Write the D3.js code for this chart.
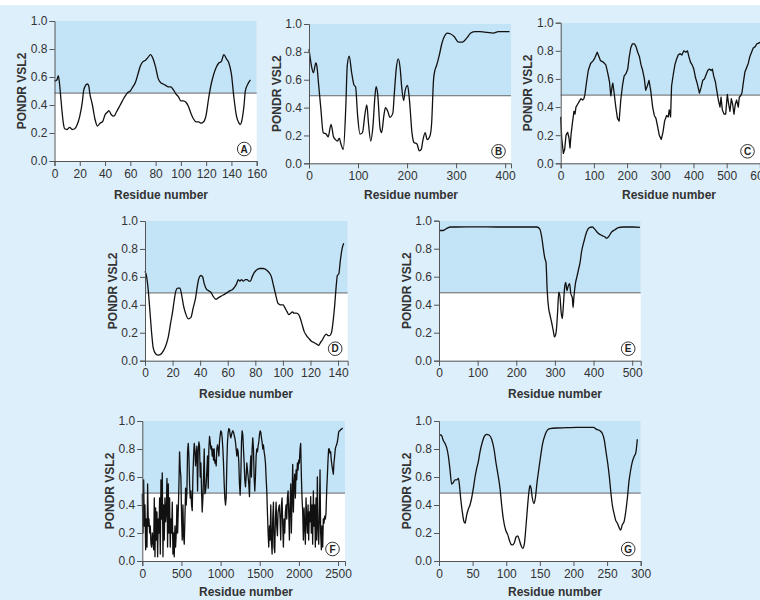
<!DOCTYPE html>
<html>
<head>
<meta charset="utf-8">
<script src="https://cdn.jsdelivr.net/npm/d3@7"></script>
<style>
  body { margin: 0; background: #fff; }
  svg { display: block; font-family: "Liberation Sans", Arial, sans-serif; }
</style>
</head>
<body>
<div id="container"></div>
<script>
// PONDR VSL2 disorder profiles, [residue, score]
const panelA = [[0,.57],[2,.58],[3,.61],[4,.55],[5,.45],[6,.35],[7,.27],[8,.23],[10,.225],[12,.24],[14,.225],[16,.23],[18,.26],[20,.32],[22,.42],[23,.50],[24,.53],[26,.55],[27,.54],[28,.48],[30,.40],[32,.30],[34,.25],[36,.27],[38,.28],[40,.33],[42,.35],[43,.36],[45,.33],[47,.32],[49,.35],[52,.40],[55,.45],[58,.49],[60,.50],[62,.53],[64,.56],[66,.62],[68,.68],[70,.71],[72,.72],[74,.74],[76,.76],[78,.73],[80,.67],[82,.59],[84,.56],[86,.55],[88,.54],[90,.53],[92,.53],[94,.51],[96,.48],[98,.46],[100,.43],[102,.43],[104,.42],[106,.39],[108,.34],[110,.30],[112,.28],[114,.28],[116,.27],[118,.28],[120,.33],[122,.45],[124,.55],[126,.62],[128,.67],[130,.70],[132,.71],[134,.76],[136,.73],[138,.70],[140,.62],[142,.45],[144,.32],[146,.27],[147,.26],[148,.28],[150,.40],[151,.50],[153,.55],[155,.58]];

const panelB = [[0,.82],[5,.70],[9,.65],[14,.72],[16,.70],[20,.55],[24,.40],[29,.22],[35,.21],[39,.19],[45,.28],[50,.19],[54,.17],[58,.16],[62,.18],[65,.14],[70,.10],[75,.40],[78,.70],[82,.77],[87,.65],[92,.56],[95,.55],[99,.35],[104,.21],[109,.22],[114,.35],[118,.42],[121,.30],[126,.16],[130,.25],[135,.50],[137,.55],[140,.50],[145,.25],[148,.22],[153,.35],[156,.40],[161,.37],[165,.33],[171,.36],[174,.50],[178,.68],[182,.75],[186,.68],[189,.55],[193,.45],[196,.52],[201,.56],[205,.45],[210,.22],[214,.15],[220,.14],[225,.09],[229,.10],[232,.16],[237,.22],[241,.17],[247,.20],[250,.28],[254,.60],[257,.67],[260,.70],[266,.78],[271,.86],[276,.91],[282,.935],[288,.93],[296,.91],[305,.87],[313,.87],[322,.90],[330,.935],[339,.945],[349,.945],[363,.94],[376,.935],[386,.945],[400,.945],[409,.945]];

const panelC = [[0,.33],[3,.18],[8,.07],[12,.10],[16,.20],[21,.22],[25,.18],[28,.11],[31,.20],[36,.30],[40,.37],[43,.35],[46,.40],[51,.42],[56,.44],[61,.46],[66,.45],[70,.46],[73,.49],[78,.58],[83,.66],[90,.71],[98,.73],[103,.75],[110,.79],[115,.76],[120,.73],[128,.72],[136,.70],[141,.65],[147,.58],[151,.48],[155,.55],[157,.57],[161,.50],[166,.40],[171,.32],[176,.30],[181,.45],[186,.55],[191,.62],[197,.64],[202,.67],[206,.75],[211,.82],[216,.85],[222,.85],[227,.83],[232,.79],[237,.76],[242,.70],[247,.66],[252,.60],[256,.52],[261,.55],[266,.59],[271,.52],[277,.40],[282,.34],[287,.32],[292,.26],[297,.20],[303,.17],[308,.22],[313,.30],[319,.34],[324,.33],[327,.38],[331,.33],[334,.55],[339,.63],[344,.70],[349,.74],[354,.77],[359,.78],[365,.77],[371,.80],[377,.79],[382,.80],[386,.76],[391,.72],[396,.70],[401,.67],[406,.61],[411,.57],[418,.50],[423,.54],[428,.59],[433,.60],[438,.63],[443,.66],[448,.67],[453,.66],[457,.67],[461,.62],[466,.58],[470,.52],[475,.45],[480,.40],[483,.47],[487,.38],[492,.35],[497,.35],[502,.49],[506,.42],[510,.37],[514,.46],[518,.42],[522,.35],[526,.42],[530,.45],[535,.40],[538,.47],[542,.48],[546,.50],[550,.57],[555,.65],[560,.68],[565,.71],[570,.76],[575,.79],[580,.82],[586,.83],[591,.85],[601,.86],[610,.85],[620,.86]];

const panelD = [[0,.64],[1.2,.60],[2.4,.50],[3.6,.35],[4.8,.20],[6,.09],[7.7,.05],[9.7,.04],[11.3,.045],[13.3,.07],[15.2,.11],[16.9,.17],[18.6,.27],[20,.35],[21,.42],[22.4,.50],[23.7,.52],[25.3,.52],[26.6,.47],[27.8,.40],[29.4,.34],[31.4,.30],[33.3,.31],[35,.38],[36.7,.45],[37.9,.53],[39.1,.59],[40.6,.61],[41.8,.60],[43,.55],[44.7,.51],[46.3,.50],[47.8,.49],[49.5,.46],[51.4,.44],[53.1,.45],[54.8,.46],[56.7,.47],[58.4,.48],[59.9,.49],[61.5,.50],[63.5,.51],[65.2,.53],[66.4,.55],[67.6,.58],[68.8,.57],[70,.58],[71.2,.57],[72.9,.58],[74.1,.58],[75.3,.57],[76.5,.57],[77.7,.60],[79.2,.63],[80.9,.65],[83.3,.66],[85.7,.66],[88.1,.65],[90,.63],[91.7,.60],[92.9,.55],[94.1,.50],[95.3,.45],[96.5,.41],[98.2,.40],[100.2,.40],[101.4,.38],[103.1,.35],[104.3,.33],[105.7,.34],[106.9,.35],[108.1,.34],[109.8,.34],[111.5,.33],[112.7,.30],[114.2,.25],[115.4,.21],[117.1,.18],[118.8,.16],[120.7,.14],[122.4,.13],[124.3,.12],[126,.11],[127.2,.13],[128.7,.15],[130.3,.18],[131.5,.19],[132.8,.18],[134,.18],[135.2,.20],[136.4,.28],[137.6,.40],[138.8,.55],[139.5,.61],[140.5,.62],[141.7,.72],[142.9,.80],[144.1,.84]];

const panelE = [[0,.93],[11,.93],[20,.945],[30,.955],[46,.955],[97,.956],[149,.955],[201,.955],[235,.955],[253,.955],[261,.94],[266,.88],[270,.80],[274,.73],[277,.70],[280,.50],[284,.37],[287,.33],[291,.28],[296,.21],[299,.17],[303,.20],[307,.35],[310,.49],[313,.46],[316,.35],[319,.30],[322,.40],[325,.52],[328,.56],[331,.50],[334,.53],[338,.55],[341,.48],[345,.45],[347,.38],[349,.45],[353,.55],[357,.60],[361,.65],[365,.70],[369,.78],[375,.85],[382,.92],[389,.95],[397,.955],[403,.94],[412,.91],[421,.895],[429,.885],[434,.875],[440,.89],[447,.92],[455,.935],[464,.95],[477,.955],[503,.955],[520,.953]];

const panelF = [
  [0,.48],[9,.20],[17,.58],[26,.25],[34,.40],[43,.08],[51,.30],[60,.10],[68,.55],[77,.25],
  [85,.30],[94,.20],[102,.25],[111,.12],[119,.10],[128,.20],[136,.14],[145,.08],[153,.45],[162,.03],
  [170,.38],[179,.15],[187,.35],[196,.03],[204,.30],[213,.20],[221,.45],[230,.05],[238,.58],[247,.30],
  [255,.63],[264,.03],[272,.40],[281,.15],[289,.45],[298,.28],[306,.35],[315,.59],[323,.10],[332,.55],
  [340,.20],[349,.45],[357,.10],[366,.30],[374,.20],[383,.42],[391,.05],[400,.20],[408,.03],[417,.25],
  [425,.10],[434,.20],[442,.40],[451,.20],[459,.35],[468,.55],[476,.78],[485,.65],[493,.60],[502,.30],
  [510,.15],[519,.40],[527,.18],[536,.12],[544,.30],[553,.52],[561,.40],[570,.50],[578,.78],[587,.84],
  [595,.75],[604,.55],[612,.45],[621,.50],[629,.40],[638,.36],[646,.60],[655,.75],[663,.84],[672,.80],
  [680,.68],[689,.75],[697,.82],[706,.50],[714,.78],[723,.85],[731,.82],[740,.60],[748,.70],[757,.50],
  [765,.35],[774,.45],[782,.60],[791,.80],[799,.48],[808,.50],[816,.55],[825,.65],[833,.75],[842,.52],
  [850,.80],[859,.89],[867,.85],[876,.80],[884,.82],[893,.75],[901,.80],[910,.72],[918,.80],[927,.70],
  [935,.72],[944,.68],[952,.80],[961,.83],[969,.80],[978,.75],[986,.85],[995,.90],[1003,.93],[1012,.92],
  [1020,.88],[1029,.80],[1037,.70],[1046,.55],[1054,.45],[1063,.40],[1071,.45],[1080,.70],[1088,.85],[1097,.92],
  [1105,.945],[1114,.94],[1122,.90],[1131,.88],[1139,.90],[1148,.92],[1156,.93],[1165,.92],[1173,.90],[1182,.88],
  [1190,.85],[1199,.80],[1207,.75],[1216,.80],[1224,.78],[1233,.70],[1241,.55],[1250,.47],[1258,.60],[1267,.85],
  [1275,.93],[1284,.90],[1292,.80],[1301,.70],[1309,.58],[1318,.53],[1326,.60],[1335,.70],[1343,.65],[1352,.60],
  [1360,.55],[1369,.46],[1377,.65],[1386,.75],[1394,.60],[1403,.80],[1411,.88],[1420,.80],[1428,.60],[1437,.50],
  [1445,.60],[1454,.75],[1462,.80],[1471,.78],[1479,.82],[1488,.85],[1496,.90],[1505,.93],[1513,.92],[1522,.88],
  [1530,.85],[1539,.80],[1547,.83],[1556,.78],[1564,.75],[1573,.70],[1581,.60],[1590,.50],[1598,.35],[1607,.20],
  [1615,.10],[1624,.25],[1632,.15],[1641,.40],[1649,.15],[1658,.05],[1666,.30],[1675,.42],[1683,.10],[1692,.06],
  [1700,.30],[1709,.42],[1717,.25],[1726,.18],[1734,.35],[1743,.38],[1751,.40],[1760,.30],[1768,.15],[1777,.40],
  [1785,.45],[1794,.25],[1802,.10],[1811,.30],[1819,.20],[1828,.35],[1836,.40],[1845,.30],[1853,.45],[1862,.50],
  [1870,.35],[1879,.15],[1887,.40],[1896,.55],[1904,.20],[1913,.45],[1921,.69],[1930,.35],[1938,.55],[1947,.62],
  [1955,.45],[1964,.65],[1972,.58],[1981,.70],[1989,.65],[1998,.72],[2006,.70],[2015,.80],[2023,.84],[2032,.60],
  [2040,.45],[2049,.35],[2057,.15],[2066,.38],[2074,.25],[2083,.12],[2091,.45],[2100,.30],[2108,.20],[2117,.40],
  [2125,.15],[2134,.35],[2142,.28],[2151,.46],[2159,.20],[2168,.40],[2176,.12],[2185,.50],[2193,.25],[2202,.40],
  [2210,.10],[2219,.45],[2227,.15],[2236,.60],[2244,.25],[2253,.12],[2261,.30],[2270,.65],[2278,.20],[2287,.08],
  [2295,.25],[2304,.10],[2312,.30],[2321,.27],[2329,.32],[2338,.30],[2346,.34],[2355,.50],[2363,.60],[2372,.72],
  [2380,.80],[2389,.80],[2397,.77],[2406,.78],[2414,.72],[2423,.68],[2431,.65],[2440,.62],[2448,.70],[2457,.75],
  [2465,.80],[2474,.82],[2482,.83],[2491,.85],[2499,.88],[2508,.92],[2516,.93],[2525,.93],[2533,.94],[2542,.94],
  [2550,.945],[2559,.95]];

const panelG = [[0,.90],[2.5,.90],[4,.895],[6.4,.86],[8.9,.84],[11.4,.81],[13.9,.75],[16.4,.65],[18.8,.55],[21.3,.56],[23.8,.58],[26.3,.58],[28.8,.59],[30.2,.55],[32.2,.45],[34.7,.35],[37.2,.28],[38.7,.27],[41.2,.33],[43.6,.37],[46.1,.40],[48.6,.45],[51.1,.52],[53.6,.60],[56,.66],[58.5,.71],[61,.78],[64.5,.85],[67.4,.89],[70.9,.905],[74.4,.90],[78.3,.87],[81.8,.80],[84.8,.70],[88.3,.60],[90.7,.52],[93.2,.40],[95.7,.30],[99.2,.22],[102.1,.19],[104.6,.15],[107.1,.12],[109.6,.115],[112.1,.13],[114.5,.17],[117,.18],[119.5,.15],[122,.11],[124.5,.09],[126.9,.12],[129.4,.25],[131.9,.40],[133.9,.50],[135.4,.54],[136.9,.52],[138.8,.45],[141.3,.41],[143.3,.45],[145.8,.56],[148.3,.65],[151.2,.75],[154.2,.84],[157.7,.90],[161.2,.935],[165.1,.945],[175,.95],[189.9,.952],[204.8,.955],[219.7,.955],[229.6,.955],[234.5,.94],[239.5,.93],[243,.91],[246,.86],[248.4,.78],[250.9,.70],[253.4,.60],[255.4,.50],[257.8,.40],[260.3,.34],[262.8,.29],[265.3,.27],[267.8,.24],[270.2,.22],[272.7,.26],[275.2,.28],[277.7,.35],[280.2,.45],[282.6,.57],[285.1,.65],[287.6,.71],[290.6,.75],[292.6,.77],[295,.87]];

const yTicks = [0, 0.2, 0.4, 0.6, 0.8, 1.0];
const threshold = 0.485;

// panel layout: plot box in page pixels, titleX = centre of "Residue number"
const panels = [
  { id: "A", data: panelA, xMax: 160,  ticks: [0,20,40,60,80,100,120,140,160], left: 54.5, right: 256.7, top: 21,    bottom: 161,   titleX: 161, titleDy: 38, smooth: true },
  { id: "B", data: panelB, xMax: 412,  ticks: [0,100,200,300,400],              left: 309,  right: 511,   top: 24,    bottom: 163.3, titleX: 411, titleDy: 36, smooth: true },
  { id: "C", data: panelC, xMax: 620,  ticks: [0,100,200,300,400,500,600],      left: 560.7,right: 766.5, top: 22.7,  bottom: 163.3, titleX: 669, titleDy: 36, smooth: false },
  { id: "D", data: panelD, xMax: 147,  ticks: [0,20,40,60,80,100,120,140],      left: 145,  right: 347.7, top: 221,   bottom: 360.7, titleX: 246, titleDy: 37, smooth: true },
  { id: "E", data: panelE, xMax: 522,  ticks: [0,100,200,300,400,500],          left: 439,  right: 640.7, top: 220.7, bottom: 360.7, titleX: 555, titleDy: 37, smooth: true },
  { id: "F", data: panelF, xMax: 2589, ticks: [0,500,1000,1500,2000,2500],      left: 142.3,right: 345,   top: 421,   bottom: 561,   titleX: 246, titleDy: 35, smooth: false },
  { id: "G", data: panelG, xMax: 300,  ticks: [0,50,100,150,200,250,300],       left: 439,  right: 640.7, top: 421,   bottom: 561,   titleX: 555, titleDy: 35, smooth: true }
];

const width = 760, height = 600;
const svg = d3.select("#container").append("svg")
  .attr("width", width).attr("height", height);

// light blue figure background
svg.append("rect")
  .attr("x", 0).attr("y", 5)
  .attr("width", width).attr("height", 595)
  .attr("fill", "#ddeffb");

panels.forEach(p => {
  const x = d3.scaleLinear().domain([0, p.xMax]).range([p.left, p.right]);
  const y = d3.scaleLinear().domain([0, 1]).range([p.bottom, p.top]);
  const g = svg.append("g");

  // white plot area, shaded above the disorder threshold
  g.append("rect")
    .attr("x", x(0)).attr("y", y(1))
    .attr("width", x(p.xMax) - x(0)).attr("height", y(0) - y(1))
    .attr("fill", "#fff");
  g.append("rect")
    .attr("x", x(0)).attr("y", y(1))
    .attr("width", x(p.xMax) - x(0)).attr("height", y(threshold) - y(1))
    .attr("fill", "#c3e3f6");
  g.append("line")
    .attr("x1", x(0)).attr("x2", x(p.xMax))
    .attr("y1", y(threshold)).attr("y2", y(threshold))
    .attr("stroke", "#666").attr("stroke-width", 1);

  const line = d3.line()
    .x(d => x(d[0])).y(d => y(d[1]))
    .curve(p.smooth ? d3.curveMonotoneX : d3.curveLinear);
  g.append("path")
    .datum(p.data)
    .attr("d", line)
    .attr("fill", "none")
    .attr("stroke", "#111")
    .attr("stroke-width", 1.3)
    .attr("stroke-linejoin", "round");

  // axes
  const yAxis = g.append("g")
    .attr("transform", `translate(${x(0)},0)`)
    .call(d3.axisLeft(y).tickValues(yTicks).tickFormat(d3.format(".1f")).tickSize(5).tickPadding(2));
  const xAxis = g.append("g")
    .attr("transform", `translate(0,${y(0)})`)
    .call(d3.axisBottom(x).tickValues(p.ticks).tickFormat(d3.format("d")).tickSize(5).tickPadding(3));
  [xAxis, yAxis].forEach(a => {
    a.select(".domain").attr("stroke", "#555");
    a.selectAll(".tick line").attr("stroke", "#555");
    a.selectAll("text")
      .attr("fill", "#333")
      .style("font-size", "12px")
      .style("font-family", "'Liberation Sans', Arial, sans-serif");
  });

  // axis titles
  g.append("text")
    .attr("x", p.titleX)
    .attr("y", p.bottom + p.titleDy)
    .attr("text-anchor", "middle")
    .attr("font-size", 12).attr("font-weight", "bold").attr("fill", "#333")
    .text("Residue number");
  g.append("text")
    .attr("transform", `translate(${p.left - 28.5},${(p.top + p.bottom) / 2}) rotate(-90)`)
    .attr("text-anchor", "middle")
    .attr("font-size", 12).attr("font-weight", "bold").attr("fill", "#333")
    .text("PONDR VSL2");

  // circled panel letter
  const cx = Math.min(p.right, 760) - 12.5, cy = p.bottom - 12;
  g.append("circle")
    .attr("cx", cx).attr("cy", cy).attr("r", 6.8)
    .attr("fill", "#fff").attr("stroke", "#333").attr("stroke-width", 1);
  g.append("text")
    .attr("x", cx).attr("y", cy + 3.6)
    .attr("text-anchor", "middle")
    .attr("font-size", 10).attr("font-weight", "bold").attr("fill", "#222")
    .text(p.id);
});
</script>
</body>
</html>
